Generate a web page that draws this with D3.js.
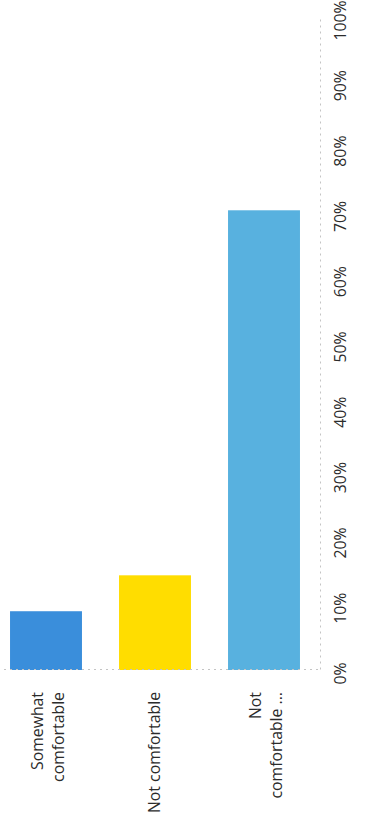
<!DOCTYPE html>
<html>
<head>
<meta charset="utf-8">
<script src="https://cdn.jsdelivr.net/npm/d3@7"></script>
<style>
  html, body { margin: 0; padding: 0; background: #ffffff; }
  svg { display: block; }
  text { font-family: "Open Sans", "DejaVu Sans", sans-serif; fill: #2b2b2b; }
</style>
</head>
<body>
<svg id="chart" width="367" height="824"></svg>
<script>
// Survey responses (share of respondents)
const categories = ["Somewhat comfortable", "Not comfortable", "Not comfortable ..."];
const categoryLines = [["Somewhat", "comfortable"], ["Not comfortable"], ["Not", "comfortable ..."]];
const values = [9, 14.5, 70.4];
const barColors = ["#3a8edb", "#ffdd00", "#58b1df"];
const tickValues = [0, 10, 20, 30, 40, 50, 60, 70, 80, 90, 100];

const W = 367, H = 824;
const svg = d3.select("#chart");

// Horizontal bar chart drawn in a frame turned a quarter-turn counter-clockwise:
// frame u runs up the page, frame v runs right across the page.
const g = svg.append("g").attr("transform", `translate(0,${H}) rotate(-90)`);

const x = d3.scaleLinear().domain([0, 100]).range([154, 807]);
const y = d3.scaleBand().domain(categories).range([-8.5, 318.5])
  .paddingInner(0.34).paddingOuter(0.17);

const dash = "2,4";
const axisColor = "#c4c4c4";
const fontSize = 15.8;

// bars
g.selectAll("rect.bar")
  .data(categories)
  .join("rect")
  .attr("class", "bar")
  .attr("x", x(0))
  .attr("y", d => y(d))
  .attr("width", (d, i) => x(values[i]) - x(0))
  .attr("height", y.bandwidth())
  .attr("fill", (d, i) => barColors[i]);

// value axis
const xAxis = g.append("g")
  .attr("transform", "translate(0,320)")
  .call(d3.axisBottom(x).tickValues(tickValues).tickFormat(d => d + "%")
    .tickSize(0).tickPadding(15));
xAxis.select(".domain").attr("stroke", axisColor).attr("stroke-dasharray", dash);
xAxis.selectAll(".tick text")
  .attr("font-size", fontSize)
  .attr("fill", "#2b2b2b")
  .attr("dx", -4);

// category axis
const yAxis = g.append("g")
  .attr("transform", `translate(${x(0)},0)`)
  .call(d3.axisLeft(y).tickSize(0).tickPadding(22));
yAxis.select(".domain").attr("stroke", axisColor).attr("stroke-dasharray", dash);
yAxis.selectAll(".tick text").each(function (d) {
  const i = categories.indexOf(d);
  const lines = categoryLines[i];
  const t = d3.select(this).text(null)
    .attr("font-size", fontSize)
    .attr("fill", "#2b2b2b")
    .attr("text-anchor", "end")
    .attr("dy", null);
  const lineGap = 20.5;
  const first = lines.length === 1 ? 5 : -3;
  lines.forEach((line, k) => {
    t.append("tspan")
      .attr("x", -22)
      .attr("y", first + k * lineGap)
      .text(line);
  });
});
</script>
</body>
</html>
